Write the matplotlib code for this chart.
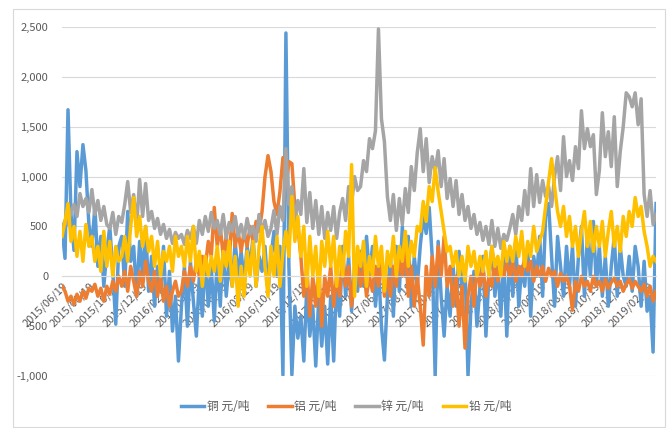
import numpy as np
import pandas as pd
import matplotlib
matplotlib.use("Agg")
import matplotlib.pyplot as plt
import matplotlib.dates as mdates
from matplotlib.patches import Rectangle
from matplotlib.ticker import FuncFormatter

plt.rcParams['font.family'] = ['Noto Sans CJK SC', 'DejaVu Sans']

# spread series, sampled every few trading days, 2015/06 - 2019/03
start_date = '2015-06-19'
end_date = '2019-03-08'

copper = [
    480, 180, 1670, 620, 260, 1250, 900, 1320, 1060, 520,
    300, 700, 100, 400, -100, 250, 500, 50, -480, 300,
    400, -100, 650, 150, 300, -200, 350, 0, 500, -150,
    200, -300, 100, -150, 300, -400, 50, -550, -200, -850,
    -300, 100, -500, 150, -250, -600, 0, -400, 200, -300,
    100, -450, 200, -300, 300, -200, 150, -100, 350, 0,
    250, -50, 300, 100, 400, -100, 200, 50, 300, -150,
    200, 450, 0, 300, -990, 2440, 100, -990, -300, -620,
    -400, -850, -100, -600, -300, -900, -200, -700, -300, -880,
    -200, -850, 0, -400, 300, -200, 200, -350, 100, -150,
    250, -100, 400, 0, 300, -300, 100, -500, -840, -200,
    200, -400, 300, -150, 500, 0, 400, -300, 200, -100,
    300, 600, 430, 690, 200, -1000, 350, -200, -600, -100,
    -400, 100, -300, 250, -150, 100, -1000, -300, 50, -500,
    -100, 200, -600, 0, 300, -200, 100, -400, 200, -600,
    300, -200, 350, -300, 100, -100, 300, -400, 200, 0,
    400, -200, 600, 730, 200, -300, 400, 100, -200, 300,
    -100, 300, -300, 200, 500, -200, 400, 0, 550, -100,
    300, -200, 200, -300, 100, 400, -200, 300, 0, -100,
    200, -150, 300, 100, -300, 150, -350, -200, -760, 730,
]

aluminium = [
    -100, -150, -250, -200, -280, -180, -250, -150, -220, -120,
    -150, -80, -200, -120, -250, -100, -180, -50, -150, 0,
    -100, 50, -150, 100, -50, -200, 50, -100, 150, -50,
    -150, 50, -200, 0, -250, -100, -300, -150, -50, -200,
    -150, 50, -100, 100, -50, 150, 0, 200, 100, 350,
    200, 690, 300, 500, 200, 400, 150, 630, 300, 450,
    250, 450, 300, 500, 350, 550, 450, 650, 1000, 1210,
    1050, 750, 620, 850, 1190, 900, 1150, 1130, 700, 500,
    200, -200, 100, -400, 0, -300, 100, -500, 0, -200,
    100, -300, 0, -200, 200, -100, 100, -300, 0, 150,
    -100, 100, -200, 0, -150, 100, -100, 200, -200, 0,
    -200, 100, -100, 200, 0, 300, -200, 100, -300, 0,
    -300, -690, 100, -200, 200, -100, 300, 0, 400, -100,
    100, -300, 0, -500, -100, -720, -200, 0, -300, 100,
    -100, 100, -200, 0, -100, 150, -50, 100, 0, 150,
    0, 150, -50, 100, 0, 200, 50, 150, -50, 100,
    0, 100, -50, 80, 0, 50, -100, 30, -50, 0,
    -100, -340, -50, -150, 0, -100, -50, -150, 0, -100,
    -50, -150, -30, -120, -60, -20, -100, -50, -150, -80,
    -30, -120, -50, -100, -150, -80, -200, -100, -250, -150,
]

zinc = [
    480, 560, 520, 650, 720, 600, 830, 700, 780, 640,
    870, 620, 760, 560, 700, 520, 480, 640, 420, 600,
    540, 720, 950, 640, 820, 500, 970, 600, 930, 560,
    650, 480, 580, 420, 520, 380, 470, 330, 440, 380,
    420, 320, 460, 380, 500, 330, 560, 420, 600, 450,
    640, 480, 560, 420, 620, 380, 540, 450, 600, 400,
    520, 380, 580, 420, 500, 350, 620, 450, 560, 400,
    480, 660, 420, 700, 560, 1280, 720, 900, 560, 760,
    620, 1080, 540, 840, 480, 760, 420, 700, 380, 640,
    460, 700, 380, 640, 780, 560, 900, 720, 1000, 860,
    900, 1160, 1050, 1380, 1280, 1460, 2480, 1580, 1350, 800,
    560, 820, 460, 780, 520, 880, 640, 1100, 860, 1240,
    1480, 1050, 1380, 940, 1200, 1050, 1260, 900, 1180, 780,
    980, 700, 960, 620, 820, 560, 700, 480, 620, 420,
    540, 360, 500, 320, 560, 300, 480, 280, 420, 360,
    480, 620, 420, 700, 560, 860, 620, 1080, 700, 1020,
    740, 960, 800, 900, 700, 1000, 1200, 860, 1400, 1000,
    1160, 960, 1300, 1080, 1660, 1280, 1480, 1300, 1420, 820,
    1060, 1640, 1200, 1450, 1100, 1600, 900, 1250, 1500, 1840,
    1800, 1700, 1840, 1520, 1780, 820, 600, 860, 520, 620,
]

lead = [
    400, 550, 730, 350, 500, 200, 450, 150, 520, 300,
    400, 150, 300, 50, 450, 100, 350, 0, 300, 150,
    200, 400, 150, 500, 790, 400, 600, 300, 500, 250,
    400, 100, 350, 0, 250, 150, 300, 50, 400, 200,
    300, 100, 400, 150, 500, 50, 250, -100, 200, 0,
    200, 50, 300, -50, 250, 100, 350, -100, 200, -300,
    100, -200, 250, 0, 350, -100, 300, 500, 100, -200,
    300, 0, 400, -100, 250, 450, 200, 800, 350, 600,
    200, 500, -100, 400, 0, 300, -200, 350, 100, 450,
    100, 400, -100, 300, 0, 450, 200, 1120, -200, 300,
    100, 350, -100, 200, 0, 400, 100, 300, -150, 250,
    100, 400, 0, 300, 150, 450, 100, 350, 200, 500,
    450, 750, 550, 900, 750, 1090, 850, 650, 450, 250,
    300, 100, 250, 0, 200, -50, 300, 100, 250, 0,
    200, 50, 250, 0, 300, 100, 200, 0, 350, 150,
    300, 150, 400, 200, 450, 100, 350, 200, 500, 250,
    350, 450, 700, 950, 1180, 900, 650, 500, 700, 400,
    600, 300, 500, 200, 450, 650, 300, 550, 250, 500,
    300, 550, 200, 450, 650, 300, 500, 250, 600, 400,
    650, 500, 790, 600, 700, 450, 300, 100, 200, 150,
]

labels = ['铜 元/吨', '铝 元/吨', '锌 元/吨', '铅 元/吨']
colors = ['#5B9BD5', '#ED7D31', '#A5A5A5', '#FFC000']
y_ticks = [-1000, -500, 0, 500, 1000, 1500, 2000, 2500]

dates = pd.date_range(start_date, end_date, periods=len(copper))

fig = plt.figure(figsize=(6.67, 4.28), dpi=100)
ax = fig.add_axes([0.093, 0.1215, 0.8906, 0.8154])

# horizontal grid behind the lines
for y in y_ticks:
    ax.axhline(y, color='#D9D9D9', lw=0.8, zorder=1)

for series, lab, col in zip([copper, aluminium, zinc, lead], labels, colors):
    ax.plot(dates, series, color=col, lw=2.5, label=lab, zorder=2,
            solid_joinstyle='round')

ax.set_ylim(-1000, 2500)
ax.set_xlim(dates[0], dates[-1])
ax.set_yticks(y_ticks)
ax.yaxis.set_major_formatter(FuncFormatter(lambda v, p: f'{int(v):,}'))

ax.xaxis.set_major_locator(mdates.MonthLocator(bymonth=[2, 4, 6, 8, 10, 12], bymonthday=19))
ax.xaxis.set_major_formatter(mdates.DateFormatter('%Y/%m/%d'))

for side in ['top', 'right', 'left']:
    ax.spines[side].set_visible(False)
ax.spines['bottom'].set_position(('data', 0))
ax.spines['bottom'].set_color('#D9D9D9')
ax.tick_params(axis='both', length=0, labelsize=8, labelcolor='#595959')
ax.tick_params(axis='y', pad=10)
ax.tick_params(axis='x', pad=3)

fig.canvas.draw()
plt.setp(ax.get_xticklabels(), rotation=45, ha='right', rotation_mode='anchor')

fig.legend(loc='center', bbox_to_anchor=(346 / 667, 1 - 407 / 428), ncol=4,
           frameon=False, fontsize=8.5, handlelength=2.0, handletextpad=0.2,
           columnspacing=1.6, labelcolor='#595959')

fig.patches.append(Rectangle((13 / 667, 0.002), 1 - 13 / 667 - 0.003, 1 - 9 / 428 - 0.002,
                             transform=fig.transFigure, fill=False,
                             ec='#D9D9D9', lw=0.8))

fig.savefig('out.png', dpi=100)
